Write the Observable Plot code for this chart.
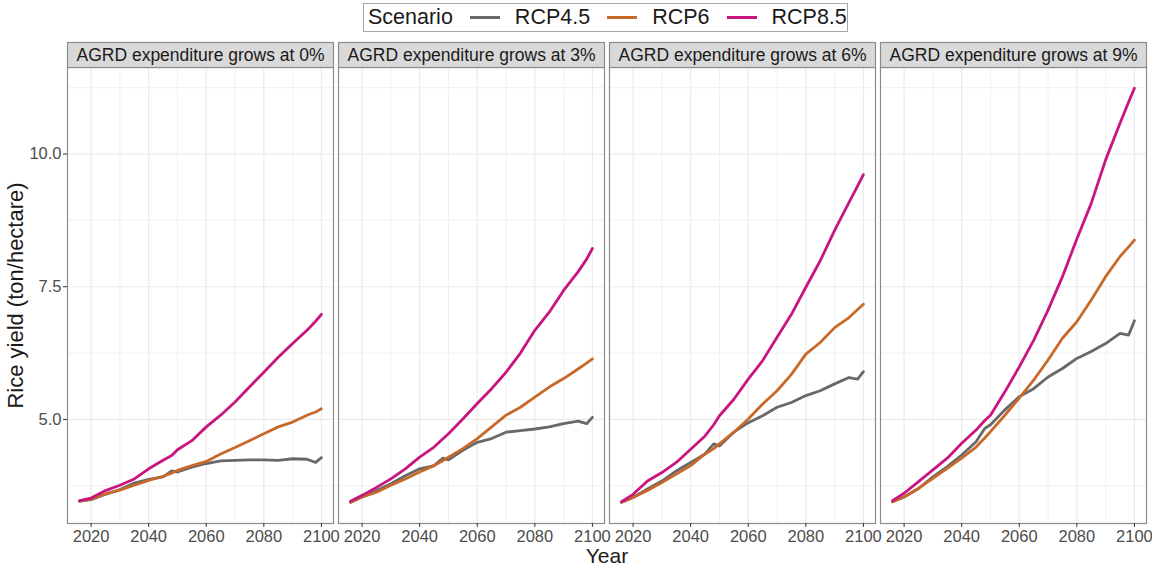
<!DOCTYPE html>
<html>
<head>
<meta charset="utf-8">
<script src="https://cdn.jsdelivr.net/npm/d3@7"></script>
<script src="https://cdn.jsdelivr.net/npm/@observablehq/plot@0.6"></script>
<style>
  body { margin: 0; background: #fff; font-family: "Liberation Sans", Arial, sans-serif; }
  #legend { position: relative; width: 1152px; height: 38px; }
  #legend .box { position: absolute; left: 363px; top: 3px; width: 485px; height: 29px; box-sizing: border-box;
    border: 1px solid #a6a6a6; display: flex; align-items: center; padding-left: 4px;
    font-size: 21.5px; color: #1a1a1a; white-space: nowrap; }
  #legend .sw { width: 30px; height: 2.8px; margin: 0 15px 0 17px; }
</style>
</head>
<body>
<div id="legend"><div class="box"></div></div>
<div id="chart"></div>
<script>
// ---- data ----
const facets = [
  "AGRD expenditure grows at 0%",
  "AGRD expenditure grows at 3%",
  "AGRD expenditure grows at 6%",
  "AGRD expenditure grows at 9%"
];
const scenarios = ["RCP4.5", "RCP6", "RCP8.5"];
const years = [2016, 2020, 2025, 2030, 2035, 2040, 2045, 2048, 2050, 2055, 2060, 2065, 2070, 2075, 2080, 2085, 2090, 2095, 2098, 2100];

// 0% growth
const g0_rcp45 = [3.46, 3.49, 3.59, 3.68, 3.80, 3.87, 3.92, 4.03, 4.01, 4.10, 4.17, 4.22, 4.23, 4.24, 4.24, 4.23, 4.26, 4.25, 4.19, 4.28];
const g0_rcp6  = [3.46, 3.50, 3.60, 3.67, 3.76, 3.85, 3.93, 3.99, 4.04, 4.13, 4.21, 4.35, 4.47, 4.60, 4.73, 4.86, 4.95, 5.08, 5.14, 5.20];
const g0_rcp85 = [3.47, 3.52, 3.66, 3.76, 3.88, 4.07, 4.23, 4.32, 4.43, 4.60, 4.86, 5.08, 5.33, 5.61, 5.89, 6.17, 6.43, 6.68, 6.85, 6.98];
// 3% growth
const g3_rcp45 = [3.44, 3.54, 3.66, 3.79, 3.94, 4.07, 4.13, 4.27, 4.24, 4.42, 4.57, 4.64, 4.76, 4.79, 4.82, 4.86, 4.92, 4.97, 4.92, 5.04];
const g3_rcp6  = [3.44, 3.54, 3.63, 3.76, 3.88, 4.01, 4.13, 4.22, 4.29, 4.45, 4.64, 4.86, 5.08, 5.23, 5.42, 5.61, 5.77, 5.95, 6.06, 6.14];
const g3_rcp85 = [3.46, 3.57, 3.72, 3.88, 4.07, 4.29, 4.48, 4.63, 4.73, 5.01, 5.30, 5.58, 5.89, 6.25, 6.68, 7.02, 7.43, 7.78, 8.02, 8.22];
// 6% growth
const g6_rcp45 = [3.44, 3.53, 3.69, 3.84, 4.03, 4.19, 4.35, 4.54, 4.50, 4.76, 4.94, 5.07, 5.23, 5.32, 5.45, 5.54, 5.67, 5.79, 5.76, 5.90];
const g6_rcp6  = [3.44, 3.53, 3.66, 3.81, 3.97, 4.13, 4.35, 4.45, 4.54, 4.76, 5.01, 5.29, 5.54, 5.85, 6.23, 6.45, 6.73, 6.92, 7.07, 7.17];
const g6_rcp85 = [3.45, 3.59, 3.84, 4.00, 4.19, 4.44, 4.69, 4.90, 5.07, 5.38, 5.76, 6.11, 6.55, 6.98, 7.49, 7.99, 8.56, 9.09, 9.40, 9.61];
// 9% growth
const g9_rcp45 = [3.45, 3.54, 3.70, 3.92, 4.11, 4.33, 4.58, 4.83, 4.90, 5.18, 5.43, 5.58, 5.80, 5.96, 6.15, 6.28, 6.43, 6.62, 6.59, 6.86];
const g9_rcp6  = [3.45, 3.54, 3.70, 3.89, 4.08, 4.27, 4.48, 4.65, 4.77, 5.08, 5.40, 5.74, 6.12, 6.53, 6.84, 7.25, 7.69, 8.07, 8.25, 8.38];
const g9_rcp85 = [3.47, 3.61, 3.83, 4.05, 4.27, 4.55, 4.80, 4.98, 5.08, 5.52, 5.99, 6.49, 7.06, 7.69, 8.40, 9.07, 9.89, 10.58, 10.98, 11.24];

const xTicksMajor = [2020, 2040, 2060, 2080, 2100];
const xTicksMinor = [2030, 2050, 2070, 2090];
const yTicksMajor = [5, 7.5, 10];
const yTicksMinor = [3.75, 6.25, 8.75, 11.25];

// ---- styles ----
const colors = ["#686868", "#c8692a", "#c8157f"];

// ---- build table ----
const seriesByFacet = [
  [g0_rcp45, g0_rcp6, g0_rcp85],
  [g3_rcp45, g3_rcp6, g3_rcp85],
  [g6_rcp45, g6_rcp6, g6_rcp85],
  [g9_rcp45, g9_rcp6, g9_rcp85]
];
const rows = [];
facets.forEach((f, i) => scenarios.forEach((s, j) =>
  seriesByFacet[i][j].forEach((v, k) => rows.push({facet: f, scenario: s, year: years[k], value: v}))));

// ---- legend ----
const box = d3.select("#legend .box");
box.append("span").text("Scenario");
scenarios.forEach((s, i) => {
  box.append("span").attr("class", "sw").style("background", colors[i]);
  box.append("span").text(s);
});

// ---- chart ----
const H = 527, mT = 29, mB = 42;
const chart = Plot.plot({
  width: 1152,
  height: H,
  marginLeft: 66,
  marginRight: 6,
  marginTop: mT,
  marginBottom: mB,
  style: {fontFamily: "'Liberation Sans', Arial, sans-serif", fontSize: "16.5px", color: "#4d4d4d", background: "#fff"},
  fx: {domain: facets, paddingInner: 0.0185, paddingOuter: 0, axis: null, label: null},
  x: {domain: [2011.8, 2104.2], label: null},
  y: {domain: [3.04, 11.63], label: null},
  color: {domain: scenarios, range: colors},
  marks: [
    Plot.gridX(xTicksMinor, {stroke: "#ebebeb", strokeOpacity: 1, strokeWidth: 0.7}),
    Plot.gridX(xTicksMajor, {stroke: "#ebebeb", strokeOpacity: 1, strokeWidth: 1.2}),
    Plot.gridY(yTicksMinor, {stroke: "#ebebeb", strokeOpacity: 1, strokeWidth: 0.7}),
    Plot.gridY(yTicksMajor, {stroke: "#ebebeb", strokeOpacity: 1, strokeWidth: 1.2}),
    Plot.line(rows, {fx: "facet", x: "year", y: "value", z: "scenario", stroke: "scenario", strokeWidth: 2.8, strokeLinejoin: "round"}),
    Plot.frame({stroke: "#8c8c8c", strokeWidth: 1.2}),
    Plot.frame({fill: "#d9d9d9", stroke: "#8c8c8c", strokeWidth: 1.2, insetTop: -25, insetBottom: H - mT - mB}),
    Plot.text(facets, {fx: d => d, text: d => d, frameAnchor: "top", lineAnchor: "middle", dy: -12.5, fontSize: 17.5, fill: "#1a1a1a"}),
    Plot.axisX(xTicksMajor, {tickSize: 4, tickPadding: 3, tickFormat: d => String(d), label: null, stroke: "#333", fill: "#4d4d4d", fontSize: 16.5}),
    Plot.axisX([], {label: "Year", labelAnchor: "center", labelArrow: "none", fontSize: 21, fill: "#1a1a1a"}),
    Plot.axisY(yTicksMajor, {tickSize: 4, tickPadding: 2, tickFormat: d => d.toFixed(1), label: null, stroke: "#333", fill: "#4d4d4d", fontSize: 16.5}),
    Plot.axisY([], {label: "Rice yield (ton/hectare)", labelAnchor: "center", labelArrow: "none", labelOffset: 60, fontSize: 22, fill: "#1a1a1a"})
  ]
});
document.getElementById("chart").appendChild(chart);
</script>
</body>
</html>
